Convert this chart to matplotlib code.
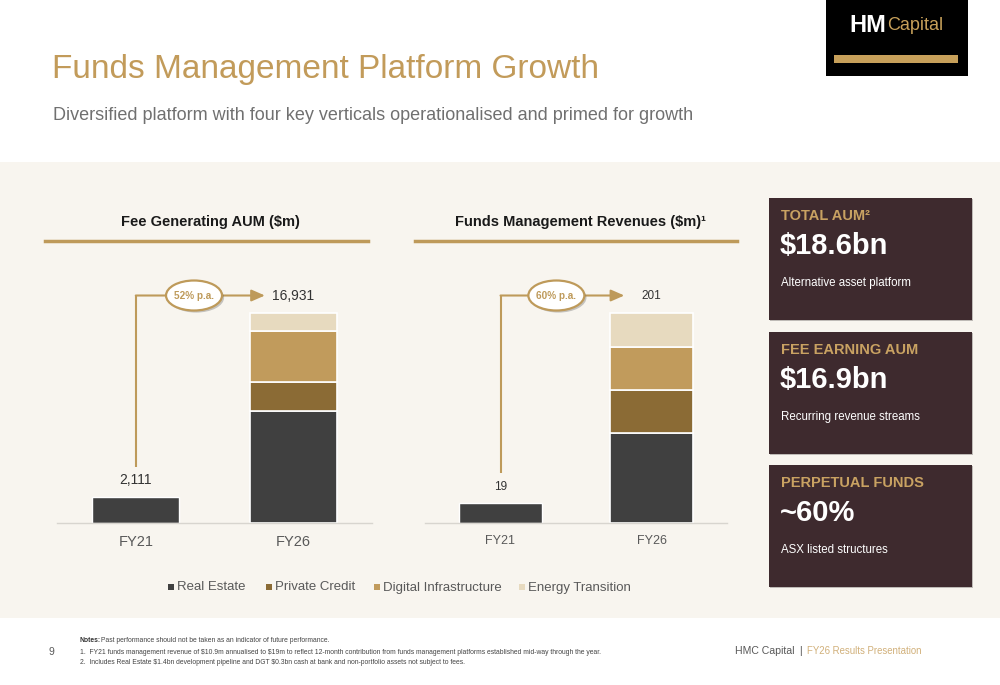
import matplotlib
matplotlib.use("Agg")
import matplotlib.pyplot as plt
from matplotlib.patches import Rectangle, Ellipse
import matplotlib.patheffects as pe

plt.rcParams['font.family'] = ['Liberation Sans', 'DejaVu Sans']

# ---- data ----
years = ['FY21', 'FY26']
segments = ['Real Estate', 'Private Credit', 'Digital Infrastructure', 'Energy Transition']
aum_totals = [2111, 16931]
aum_fy26 = [9000, 2320, 4130, 1481]
rev_totals = [19, 201]
rev_fy26 = [86, 41, 41, 33]
aum_cagr = '52% p.a.'
rev_cagr = '60% p.a.'

cards = [
    ('TOTAL AUM²', '$18.6bn', 'Alternative asset platform'),
    ('FEE EARNING AUM', '$16.9bn', 'Recurring revenue streams'),
    ('PERPETUAL FUNDS', '~60%', 'ASX listed structures'),
]

notes = [
    'Past performance should not be taken as an indicator of future performance.',
    r'1.  FY21 funds management revenue of \$10.9m annualised to \$19m to reflect 12-month contribution from funds management platforms established mid-way through the year.',
    r'2.  Includes Real Estate \$1.4bn development pipeline and DGT \$0.3bn cash at bank and non-portfolio assets not subject to fees.',
]

seg_colors = ['#404040', '#8B6B35', '#C19B5C', '#E7DABF']
gold = '#BE9A5A'
title_gold = '#C29B5A'
card_bg = '#3E2A2E'
panel_bg = '#F8F5EF'
grey_txt = '#595959'

W, H = 1000, 685
fig = plt.figure(figsize=(W / 100, H / 100), dpi=100)
fig.patch.set_facecolor('white')


def fx(x):
    return x / W


def fy(y):
    return 1 - y / H


def px_axes(x0, y0, x1, y1):
    return fig.add_axes([fx(x0), fy(y1), (x1 - x0) / W, (y1 - y0) / H])


# beige panel
fig.patches.append(Rectangle((0, fy(618)), 1, (618 - 162) / H, transform=fig.transFigure,
                             facecolor=panel_bg, edgecolor='none', zorder=-10))

# title / subtitle
fig.text(fx(52), fy(78), 'Funds Management Platform Growth', fontsize=24, color=title_gold,
         va='baseline', ha='left')
fig.text(fx(53), fy(120), 'Diversified platform with four key verticals operationalised and primed for growth',
         fontsize=13, color='#707070', va='baseline', ha='left')

# logo
fig.patches.append(Rectangle((fx(826), fy(76)), (968 - 826) / W, 76 / H, transform=fig.transFigure,
                             facecolor='black', edgecolor='none'))
fig.patches.append(Rectangle((fx(834), fy(63)), (958 - 834) / W, 8 / H, transform=fig.transFigure,
                             facecolor='#C7A05A', edgecolor='none'))
fig.text(fx(849), fy(25), 'HM', fontsize=17, fontweight='bold', color='white', ha='left', va='center')
fig.text(fx(887), fy(26), 'Capital', fontsize=13, color='#C7A05A', ha='left', va='center')


def stacked_chart(ax, totals, parts, cagr, big):
    ymax = totals[1] / 0.80
    ax.set_xlim(-0.5, 1.5)
    ax.set_ylim(0, ymax)
    ax.patch.set_alpha(0)
    w = 0.55
    ax.bar(0, totals[0], width=w, color=seg_colors[0], edgecolor='white', linewidth=1)
    bottom = 0
    for val, col in zip(parts, seg_colors):
        ax.bar(1, val, bottom=bottom, width=w, color=col, edgecolor='white', linewidth=1.2)
        bottom += val
    for s in ['top', 'right', 'left']:
        ax.spines[s].set_visible(False)
    ax.spines['bottom'].set_color('#D8D5CF')
    ax.spines['bottom'].set_linewidth(1)
    ax.set_yticks([])
    ax.set_xticks([0, 1])
    fs = 10.5 if big else 9
    ax.set_xticklabels(years, fontsize=fs, color=grey_txt)
    ax.tick_params(axis='x', length=0, pad=9)

    vfs = 10 if big else 8.5
    ax.text(0, totals[0] + 0.063 * ymax, f'{totals[0]:,}', ha='center', va='center', fontsize=vfs,
            color='#333333')
    arrow_y = totals[1] + 0.065 * ymax
    ax.text(1, arrow_y, f'{totals[1]:,}', ha='center', va='center', fontsize=vfs, color='#333333')
    # growth connector
    ax.plot([0, 0], [totals[0] + 0.114 * ymax, arrow_y], color=gold, lw=1.5, clip_on=False,
            solid_capstyle='butt')
    ax.annotate('', xy=(0.82, arrow_y), xytext=(0, arrow_y),
                arrowprops=dict(arrowstyle='-|>,head_length=0.8,head_width=0.35', color=gold, lw=1.5,
                                shrinkA=0, shrinkB=0), annotation_clip=False)
    # ellipse badge, 56 x 30 px
    bbox = ax.get_window_extent()
    ew = 56 / (bbox.width / 2.0)
    eh = 30 / bbox.height * ymax
    ell = Ellipse((0.37, arrow_y), ew, eh, facecolor='white', edgecolor=gold, lw=1.6, clip_on=False,
                  zorder=4)
    ell.set_path_effects([pe.SimplePatchShadow(offset=(1.5, -1.5), alpha=0.3), pe.Normal()])
    ax.add_patch(ell)
    ax.text(0.37, arrow_y, cagr, ha='center', va='center', fontsize=7.2, fontweight='bold',
            color=gold, zorder=5)


ax1 = px_axes(57, 260, 372, 523)
stacked_chart(ax1, aum_totals, aum_fy26, aum_cagr, True)
ax2 = px_axes(425, 260, 727, 523)
stacked_chart(ax2, rev_totals, rev_fy26, rev_cagr, False)

# chart headers
for x0, x1, label in [(45, 368, 'Fee Generating AUM ($m)'),
                      (415, 737, 'Funds Management Revenues ($m)¹')]:
    fig.text(fx((x0 + x1) / 2 + 4), fy(222), label, fontsize=10.5, fontweight='bold', color='#1A1A1A',
             ha='center', va='center')
    fig.add_artist(plt.Line2D([fx(x0), fx(x1)], [fy(241), fy(241)], color=gold, lw=2.5))

# legend
leg_x = [168, 266, 374, 519]
for x, name, col in zip(leg_x, segments, seg_colors):
    fig.patches.append(Rectangle((fx(x), fy(590)), 6 / W, 6 / H, transform=fig.transFigure,
                                 facecolor=col, edgecolor='none'))
    fig.text(fx(x + 9), fy(587.5), name, fontsize=9.5, color=grey_txt, ha='left', va='center')

# cards
card_tops = [198, 332, 465]
for top, (lab, val, desc) in zip(card_tops, cards):
    r = Rectangle((fx(769), fy(top + 122)), (972 - 769) / W, 122 / H, transform=fig.transFigure,
                  facecolor=card_bg, edgecolor='none')
    r.set_path_effects([pe.SimplePatchShadow(offset=(1, -1), alpha=0.25), pe.Normal()])
    fig.patches.append(r)
    fig.text(fx(781), fy(top + 18), lab, fontsize=10.5, fontweight='bold', color='#C9A262',
             ha='left', va='center')
    fig.text(fx(780), fy(top + 48), val, fontsize=21, fontweight='bold', color='white',
             ha='left', va='center')
    fig.text(fx(781), fy(top + 85), desc, fontsize=8.3, color='white', ha='left', va='center')

# footer
fig.text(fx(51), fy(652), '9', fontsize=7.5, color=grey_txt, ha='center', va='center')
fig.text(fx(80), fy(641), 'Notes:', fontsize=4.9, fontweight='bold', color='#333333', ha='left',
         va='center')
fig.text(fx(101), fy(641), notes[0], fontsize=4.9, color='#444444', ha='left', va='center')
for i, line in enumerate(notes[1:]):
    fig.text(fx(80), fy(652 + 11 * i), line, fontsize=4.9, color='#444444', ha='left', va='center')
fig.text(fx(735), fy(651), 'HMC Capital', fontsize=7.6, color=grey_txt, ha='left', va='center')
fig.text(fx(799), fy(651), '|', fontsize=7.6, color=grey_txt, ha='left', va='center')
fig.text(fx(807), fy(651), 'FY26 Results Presentation', fontsize=6.9, color='#D1B07A', ha='left',
         va='center')

fig.savefig('out.png', dpi=100)
